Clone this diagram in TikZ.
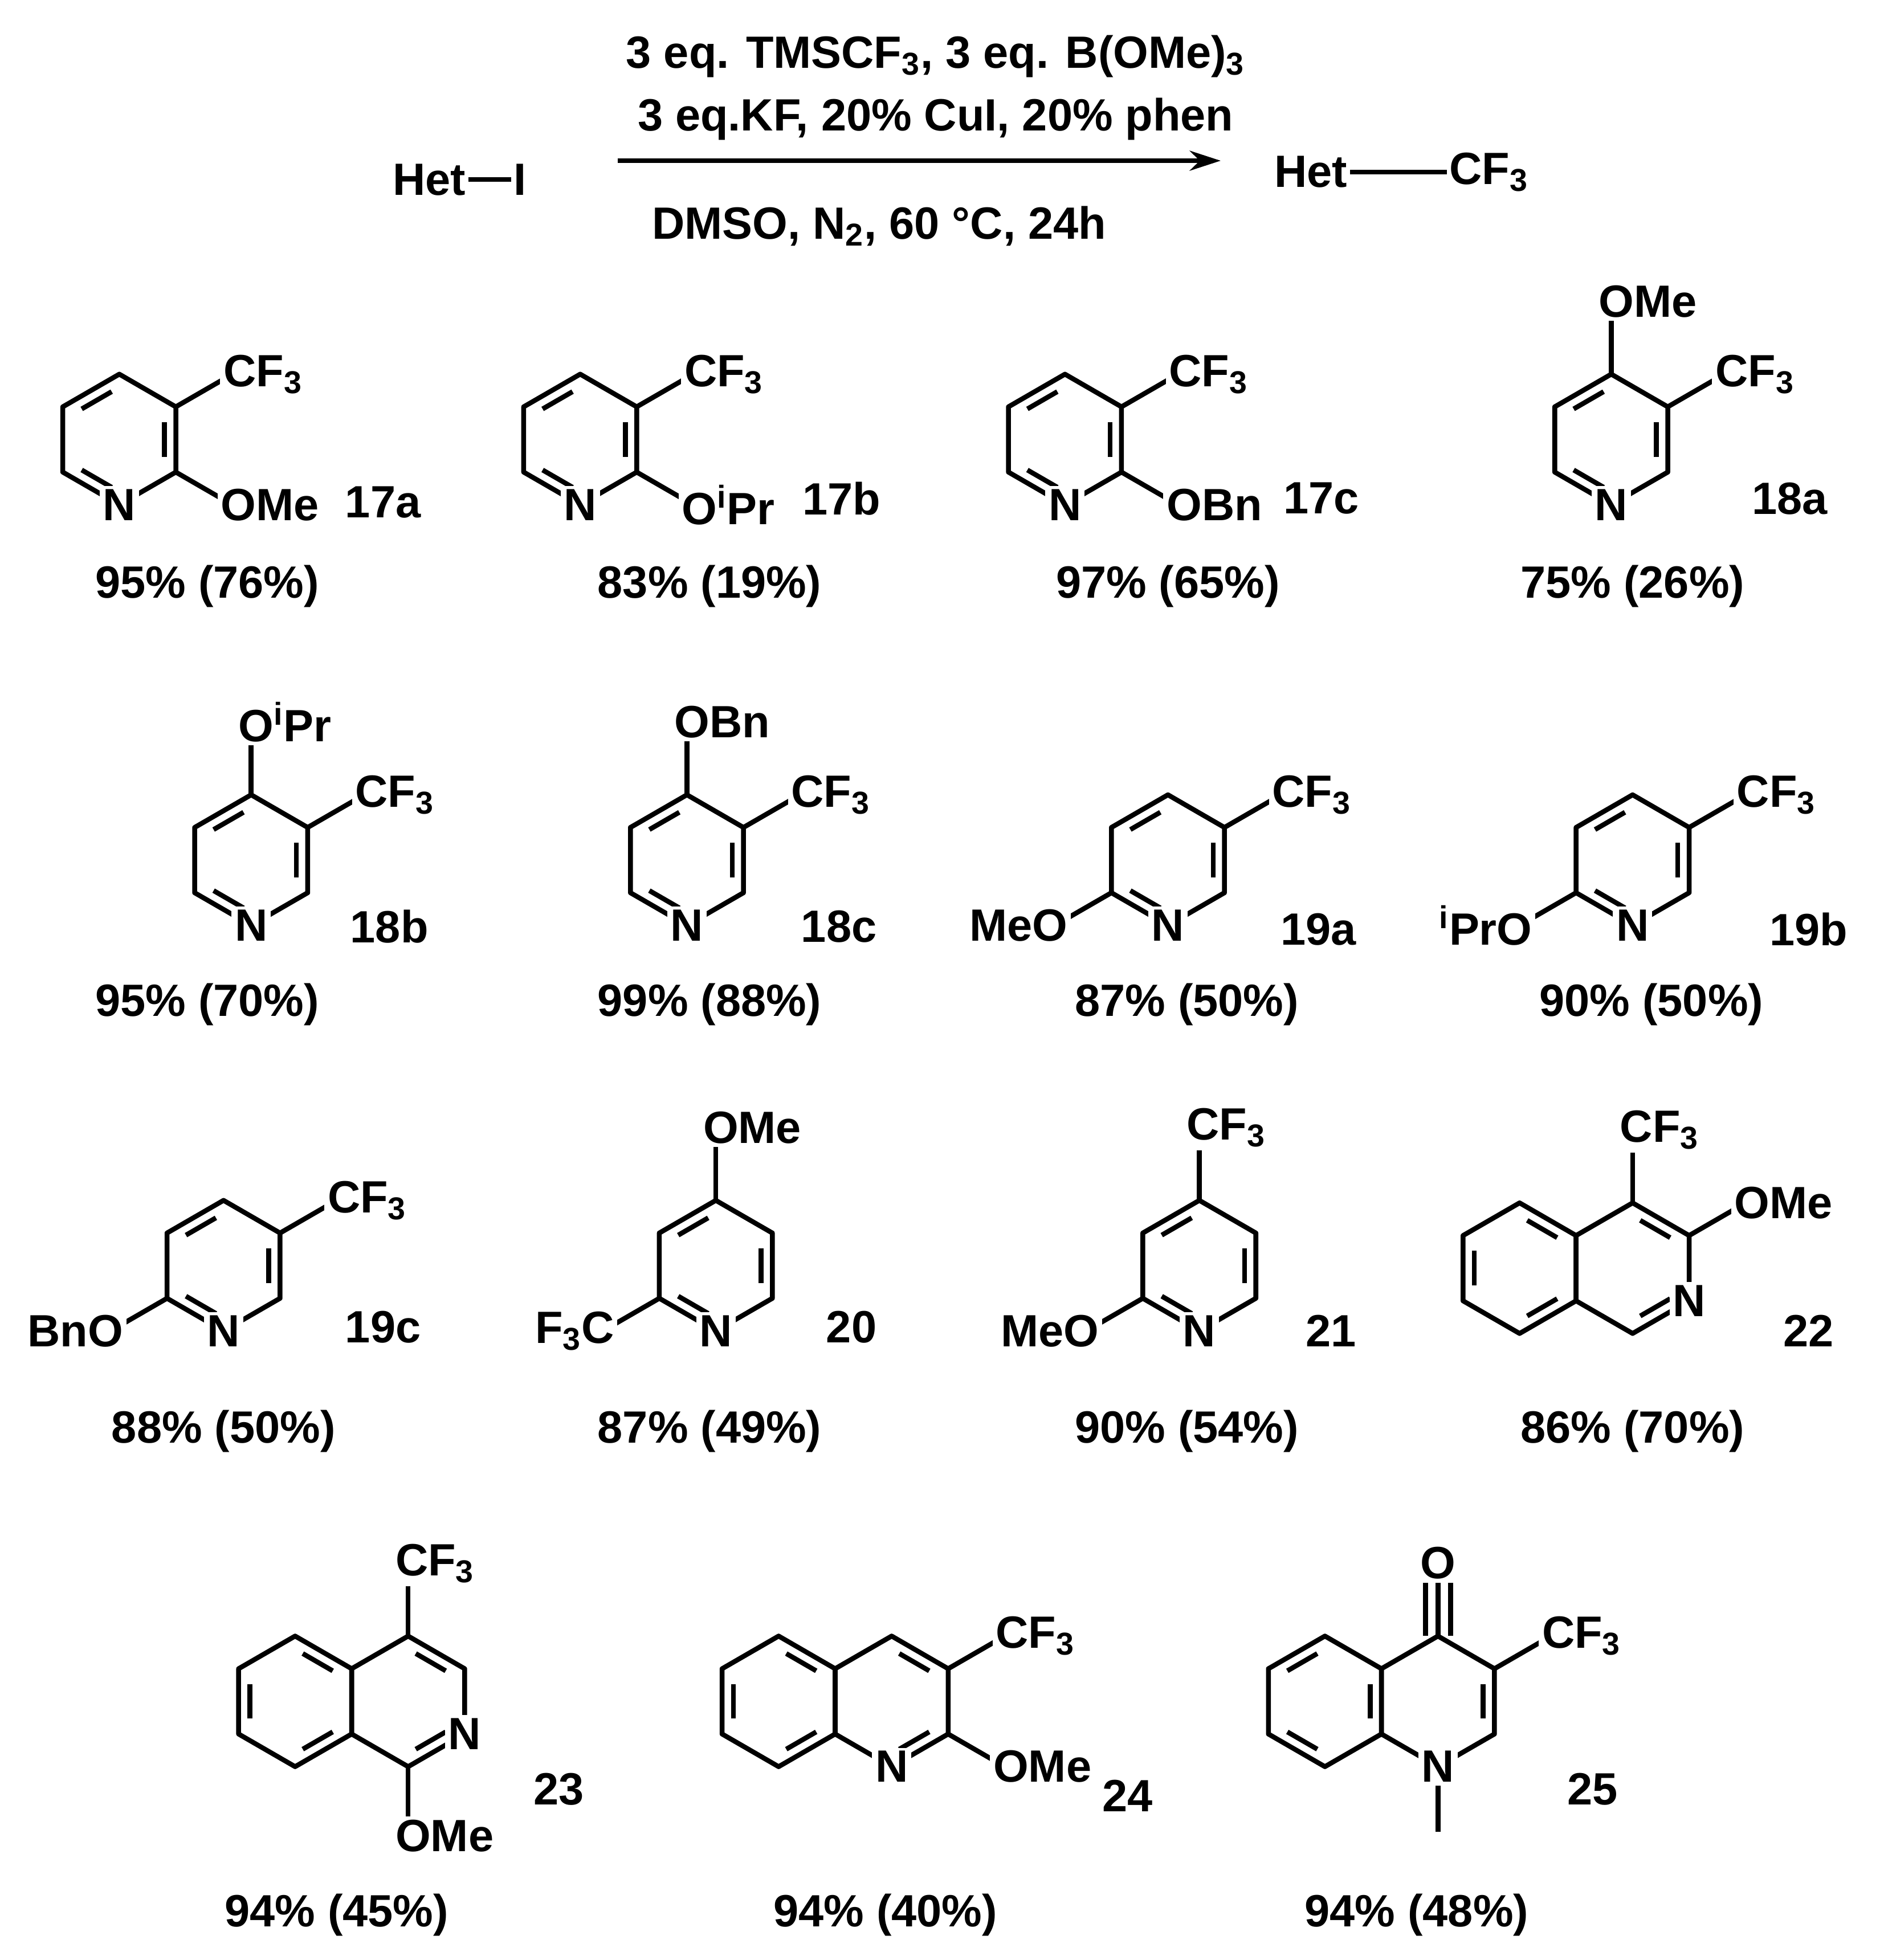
\documentclass[tikz,border=0pt]{standalone}
\usepackage{fontspec}
\setmainfont{Liberation Sans}
\usetikzlibrary{calc,arrows.meta}
\newcommand\hexr[3]{%
 \coordinate (#1-c) at (#2,#3);
 \coordinate (#1-1) at (#2,#3-52);
 \coordinate (#1-2) at (#2+45,#3-26);
 \coordinate (#1-3) at (#2+45,#3+26);
 \coordinate (#1-4) at (#2,#3+52);
 \coordinate (#1-5) at (#2-45,#3+26);
 \coordinate (#1-6) at (#2-45,#3-26);
 \draw[bond] (#1-1)--(#1-2)--(#1-3)--(#1-4)--(#1-5)--(#1-6)--cycle;}
\newcommand\dbl[3]{\draw[bond,shorten <=4pt,shorten >=4pt] ($(#1)!0.2!(#3)$) -- ($(#2)!0.2!(#3)$);}
\newcommand\cfthree{CF\textsubscript{3}}
\begin{document}
\begin{tikzpicture}[x=0.02cm,y=-0.02cm,
  bond/.style={line width=2.2pt,line join=round},
  lab/.style={font=\fontsize{20.5}{24}\selectfont\bfseries,fill=white,inner sep=1.5pt},
  txt/.style={font=\fontsize{20.5}{24}\selectfont\bfseries,inner sep=1pt}]
\useasboundingbox (0,0) rectangle (1500,1561);
% header
\node[txt,anchor=east] (het1) at (373,143) {Het};
\node[txt,anchor=west] (i1) at (407,143) {I};
\draw[bond] (het1.east) -- (i1.west);
\coordinate (arS) at (492,128); \coordinate (arE) at (972,128);
\draw[bond,-{Stealth[length=14pt,width=9pt]}] (arS) -- (arE);
\node[txt] (c1) at (745,45) {3 eq. TMS\cfthree, 3 eq. B(OMe)\textsubscript{3}};
\node[txt] (c2) at (745,95) {3 eq.KF, 20\% CuI, 20\% phen};
\node[txt] (c3) at (700,180) {DMSO, N\textsubscript{2}, 60 °C, 24h};
\node[txt,anchor=east] (het2) at (1075,137) {Het};
\node[txt,anchor=west] (cf2) at (1152,137) {\cfthree};
\draw[bond] (het2.east) -- (cf2.west);
% ---------- 17a
\hexr{A}{95}{350}\dbl{A-1}{A-6}{A-c}\dbl{A-2}{A-3}{A-c}\dbl{A-5}{A-4}{A-c}
\draw[bond] (A-2)--++(45,-26) coordinate (A-x); \node[lab,anchor=west] (Acf) at ($(A-x)+(-10,0)$) {\cfthree};
\draw[bond] (A-3)--++(45,26) coordinate (A-y); \node[lab,anchor=west] (Ao) at ($(A-y)+(-12,0)$) {OMe};
\node[lab] (AN) at (A-4) {N};
\node[txt] (Al) at (305,400) {17a}; \node[txt] (Ay) at (165,467) {95\% (76\%)};
% ---------- 17b
\hexr{B}{462}{350}\dbl{B-1}{B-6}{B-c}\dbl{B-2}{B-3}{B-c}\dbl{B-5}{B-4}{B-c}
\draw[bond] (B-2)--++(45,-26) coordinate (B-x); \node[lab,anchor=west] (Bcf) at ($(B-x)+(-10,0)$) {\cfthree};
\draw[bond] (B-3)--++(45,26) coordinate (B-y); \node[lab,anchor=west] (Bo) at ($(B-y)+(-12,0)$) {O\textsuperscript{i}Pr};
\node[lab] (BN) at (B-4) {N};
\node[txt] (Bl) at (670,397) {17b}; \node[txt] (By) at (565,467) {83\% (19\%)};
% ---------- 17c
\hexr{C}{848}{350}\dbl{C-1}{C-6}{C-c}\dbl{C-2}{C-3}{C-c}\dbl{C-5}{C-4}{C-c}
\draw[bond] (C-2)--++(45,-26) coordinate (C-x); \node[lab,anchor=west] (Ccf) at ($(C-x)+(-10,0)$) {\cfthree};
\draw[bond] (C-3)--++(45,26) coordinate (C-y); \node[lab,anchor=west] (Co) at ($(C-y)+(-12,0)$) {OBn};
\node[lab] (CN) at (C-4) {N};
\node[txt] (Cl) at (1052,397) {17c}; \node[txt] (Cy) at (930,467) {97\% (65\%)};
% ---------- 18a
\hexr{D}{1283}{350}\dbl{D-1}{D-6}{D-c}\dbl{D-2}{D-3}{D-c}\dbl{D-5}{D-4}{D-c}
\draw[bond] (D-2)--++(45,-26) coordinate (D-x); \node[lab,anchor=west] (Dcf) at ($(D-x)+(-10,0)$) {\cfthree};
\draw[bond] (D-1)--++(0,-58) coordinate (D-y); \node[lab,anchor=west] (Do) at ($(D-y)+(-13,0)$) {OMe};
\node[lab] (DN) at (D-4) {N};
\node[txt] (Dl) at (1425,397) {18a}; \node[txt] (Dy) at (1300,467) {75\% (26\%)};
% ---------- 18b
\hexr{E}{200}{685}\dbl{E-1}{E-6}{E-c}\dbl{E-2}{E-3}{E-c}\dbl{E-5}{E-4}{E-c}
\draw[bond] (E-2)--++(45,-26) coordinate (E-x); \node[lab,anchor=west] (Ecf) at ($(E-x)+(-10,0)$) {\cfthree};
\draw[bond] (E-1)--++(0,-58) coordinate (E-y); \node[lab,anchor=west] (Eo) at ($(E-y)+(-13,0)$) {O\textsuperscript{i}Pr};
\node[lab] (EN) at (E-4) {N};
\node[txt] (El) at (310,738) {18b}; \node[txt] (Ey) at (165,800) {95\% (70\%)};
% ---------- 18c
\hexr{F}{547}{685}\dbl{F-1}{F-6}{F-c}\dbl{F-2}{F-3}{F-c}\dbl{F-5}{F-4}{F-c}
\draw[bond] (F-2)--++(45,-26) coordinate (F-x); \node[lab,anchor=west] (Fcf) at ($(F-x)+(-10,0)$) {\cfthree};
\draw[bond] (F-1)--++(0,-58) coordinate (F-y); \node[lab,anchor=west] (Fo) at ($(F-y)+(-13,0)$) {OBn};
\node[lab] (FN) at (F-4) {N};
\node[txt] (Fl) at (668,738) {18c}; \node[txt] (Fy) at (565,800) {99\% (88\%)};
% ---------- 19a
\hexr{G}{930}{685}\dbl{G-1}{G-6}{G-c}\dbl{G-2}{G-3}{G-c}\dbl{G-5}{G-4}{G-c}
\draw[bond] (G-2)--++(45,-26) coordinate (G-x); \node[lab,anchor=west] (Gcf) at ($(G-x)+(-10,0)$) {\cfthree};
\draw[bond] (G-5)--++(-45,26) coordinate (G-y); \node[lab,anchor=east] (Go) at ($(G-y)+(13,0)$) {MeO};
\node[lab] (GN) at (G-4) {N};
\node[txt] (Gl) at (1050,740) {19a}; \node[txt] (Gy) at (945,800) {87\% (50\%)};
% ---------- 19b
\hexr{H}{1300}{685}\dbl{H-1}{H-6}{H-c}\dbl{H-2}{H-3}{H-c}\dbl{H-5}{H-4}{H-c}
\draw[bond] (H-2)--++(45,-26) coordinate (H-x); \node[lab,anchor=west] (Hcf) at ($(H-x)+(-10,0)$) {\cfthree};
\draw[bond] (H-5)--++(-45,26) coordinate (H-y); \node[lab,anchor=east] (Ho) at ($(H-y)+(13,0)$) {\textsuperscript{i}PrO};
\node[lab] (HN) at (H-4) {N};
\node[txt] (Hl) at (1440,740) {19b}; \node[txt] (Hy) at (1315,800) {90\% (50\%)};
% ---------- 19c
\hexr{I}{178}{1008}\dbl{I-1}{I-6}{I-c}\dbl{I-2}{I-3}{I-c}\dbl{I-5}{I-4}{I-c}
\draw[bond] (I-2)--++(45,-26) coordinate (I-x); \node[lab,anchor=west] (Icf) at ($(I-x)+(-10,0)$) {\cfthree};
\draw[bond] (I-5)--++(-45,26) coordinate (I-y); \node[lab,anchor=east] (Io) at ($(I-y)+(13,0)$) {BnO};
\node[lab] (IN) at (I-4) {N};
\node[txt] (Il) at (305,1057) {19c}; \node[txt] (Iy) at (178,1140) {88\% (50\%)};
% ---------- 20
\hexr{J}{570}{1008}\dbl{J-1}{J-6}{J-c}\dbl{J-2}{J-3}{J-c}\dbl{J-5}{J-4}{J-c}
\draw[bond] (J-1)--++(0,-58) coordinate (J-x); \node[lab,anchor=west] (Jo) at ($(J-x)+(-13,0)$) {OMe};
\draw[bond] (J-5)--++(-45,26) coordinate (J-y); \node[lab,anchor=east] (Jcf) at ($(J-y)+(12,0)$) {F\textsubscript{3}C};
\node[lab] (JN) at (J-4) {N};
\node[txt] (Jl) at (678,1057) {20}; \node[txt] (Jy) at (565,1140) {87\% (49\%)};
% ---------- 21
\hexr{K}{955}{1008}\dbl{K-1}{K-6}{K-c}\dbl{K-2}{K-3}{K-c}\dbl{K-5}{K-4}{K-c}
\draw[bond] (K-1)--++(0,-58) coordinate (K-x); \node[lab,anchor=west] (Kcf) at ($(K-x)+(-13,0)$) {\cfthree};
\draw[bond] (K-5)--++(-45,26) coordinate (K-y); \node[lab,anchor=east] (Ko) at ($(K-y)+(13,0)$) {MeO};
\node[lab] (KN) at (K-4) {N};
\node[txt] (Kl) at (1060,1060) {21}; \node[txt] (Ky) at (945,1140) {90\% (54\%)};
% ---------- 22
\hexr{L}{1300}{1010}\hexr{Lb}{1210}{1010}
\dbl{L-1}{L-2}{L-c}\dbl{L-3}{L-4}{L-c}
\dbl{Lb-1}{Lb-2}{Lb-c}\dbl{Lb-4}{Lb-3}{Lb-c}\dbl{Lb-5}{Lb-6}{Lb-c}
\draw[bond] (L-1)--++(0,-58) coordinate (L-x); \node[lab,anchor=west] (Lcf) at ($(L-x)+(-13,0)$) {\cfthree};
\draw[bond] (L-2)--++(45,-26) coordinate (L-y); \node[lab,anchor=west] (Lo) at ($(L-y)+(-12,0)$) {OMe};
\node[lab] (LN) at (L-3) {N};
\node[txt] (Ll) at (1440,1060) {22}; \node[txt] (Ly) at (1300,1140) {86\% (70\%)};
% ---------- 23
\hexr{M}{325}{1355}\hexr{Mb}{235}{1355}
\dbl{M-1}{M-2}{M-c}\dbl{M-3}{M-4}{M-c}
\dbl{Mb-1}{Mb-2}{Mb-c}\dbl{Mb-4}{Mb-3}{Mb-c}\dbl{Mb-5}{Mb-6}{Mb-c}
\draw[bond] (M-1)--++(0,-58) coordinate (M-x); \node[lab,anchor=west] (Mcf) at ($(M-x)+(-13,0)$) {\cfthree};
\draw[bond] (M-4)--++(0,55) coordinate (M-y); \node[lab,anchor=west] (Mo) at ($(M-y)+(-13,0)$) {OMe};
\node[lab] (MN) at (M-3) {N};
\node[txt] (Ml) at (445,1425) {23}; \node[txt] (My) at (268,1525) {94\% (45\%)};
% ---------- 24
\hexr{P}{710}{1355}\hexr{Pb}{620}{1355}
\dbl{P-1}{P-2}{P-c}\dbl{P-3}{P-4}{P-c}
\dbl{Pb-1}{Pb-2}{Pb-c}\dbl{Pb-4}{Pb-3}{Pb-c}\dbl{Pb-5}{Pb-6}{Pb-c}
\draw[bond] (P-2)--++(45,-26) coordinate (P-x); \node[lab,anchor=west] (Pcf) at ($(P-x)+(-10,0)$) {\cfthree};
\draw[bond] (P-3)--++(45,26) coordinate (P-y); \node[lab,anchor=west] (Po) at ($(P-y)+(-12,0)$) {OMe};
\node[lab] (PN) at (P-4) {N};
\node[txt] (Pl) at (898,1430) {24}; \node[txt] (Py) at (705,1525) {94\% (40\%)};
% ---------- 25
\hexr{Q}{1145}{1355}\hexr{Qb}{1055}{1355}
\dbl{Q-2}{Q-3}{Q-c}
\dbl{Qb-2}{Qb-3}{Qb-c}\dbl{Qb-4}{Qb-5}{Qb-c}\dbl{Qb-6}{Qb-1}{Qb-c}
\draw[bond] (Q-1)--++(0,-58) coordinate (Q-x);
\draw[bond] ($(Q-1)+(-10,0)$)--($(Q-x)+(-10,0)$);
\draw[bond] ($(Q-1)+(10,0)$)--($(Q-x)+(10,0)$);
\node[lab] (QO) at (Q-x) {O};
\draw[bond] (Q-2)--++(45,-26) coordinate (Q-y); \node[lab,anchor=west] (Qcf) at ($(Q-y)+(-10,0)$) {\cfthree};
\draw[bond] (Q-4)--++(0,52) coordinate (Q-m);
\node[lab] (QN) at (Q-4) {N};
\node[txt] (Ql) at (1268,1425) {25}; \node[txt] (Qy) at (1128,1525) {94\% (48\%)};
\end{tikzpicture}
\end{document}
